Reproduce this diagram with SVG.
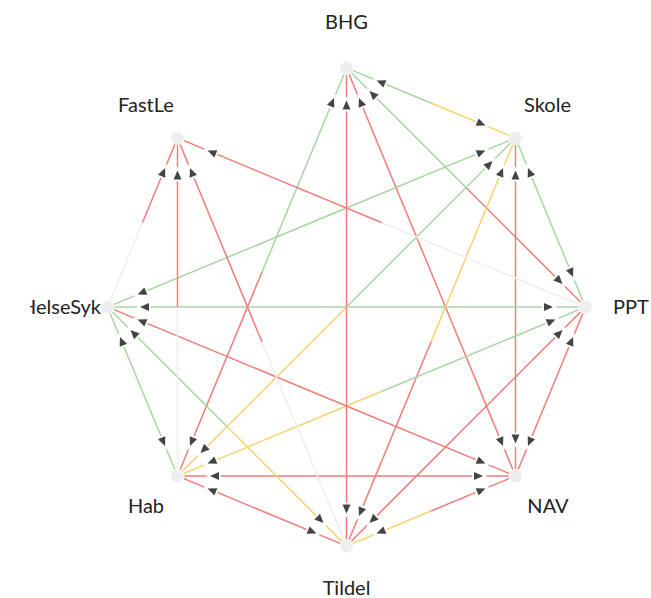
<svg xmlns="http://www.w3.org/2000/svg" xmlns:xlink="http://www.w3.org/1999/xlink" width="651" height="598" viewBox="0 0 651 598">
<style>
.r{stroke:#f07c78;stroke-width:1.5;fill:none}
.g{stroke:#a6d6a0;stroke-width:1.5;fill:none}
.y{stroke:#f6d26e;stroke-width:1.5;fill:none}
.n{stroke:#eeeeee;stroke-width:1.5;fill:none}
.ah{fill:#444;stroke:#fff;stroke-width:3.5;paint-order:stroke;stroke-linejoin:miter}
.node{fill:#eeeeee}
.lbl{font-family:Lato,"Open Sans","Liberation Sans",sans-serif;font-size:20px;fill:#222}
</style>
<defs>
<path id="a" class="ah" d="M4.5,0 L-4.5,-4 L-4.5,4 Z"/>
<clipPath id="clipL"><rect x="30" y="280" width="80" height="50"/></clipPath>
</defs>
<rect width="651" height="598" fill="#fff"/>
<g id="connectors">
<!-- B-S -->
<line class="g" x1="431" y1="103" x2="352.97" y2="70.68"/>
<line class="y" x1="431" y1="103" x2="509.03" y2="135.32"/>
<!-- B-P -->
<line class="g" x1="466" y1="187.5" x2="351.45" y2="72.95"/>
<line class="r" x1="466" y1="187.5" x2="580.55" y2="302.05"/>
<!-- B-N -->
<line class="r" x1="431" y1="272" x2="349.18" y2="74.47"/>
<line class="r" x1="431" y1="272" x2="512.82" y2="469.53"/>
<!-- B-T -->
<line class="r" x1="346.5" y1="307" x2="346.5" y2="75"/>
<line class="r" x1="346.5" y1="307" x2="346.5" y2="539"/>
<!-- B-H -->
<line class="g" x1="262" y1="272" x2="343.82" y2="74.47"/>
<line class="r" x1="262" y1="272" x2="180.18" y2="469.53"/>
<!-- S-P -->
<line class="g" x1="550.5" y1="222.5" x2="518.18" y2="144.47"/>
<line class="g" x1="550.5" y1="222.5" x2="582.82" y2="300.53"/>
<!-- S-N -->
<line class="r" x1="515.5" y1="307" x2="515.5" y2="145"/>
<line class="r" x1="515.5" y1="307" x2="515.5" y2="469"/>
<!-- S-T -->
<line class="y" x1="431" y1="342" x2="512.82" y2="144.47"/>
<line class="r" x1="431" y1="342" x2="349.18" y2="539.53"/>
<!-- S-H -->
<line class="g" x1="346.5" y1="307" x2="510.55" y2="142.95"/>
<line class="y" x1="346.5" y1="307" x2="182.45" y2="471.05"/>
<!-- S-E -->
<line class="g" x1="311.5" y1="222.5" x2="509.03" y2="140.68"/>
<line class="g" x1="311.5" y1="222.5" x2="113.97" y2="304.32"/>
<!-- P-N -->
<line class="r" x1="550.5" y1="391.5" x2="582.82" y2="313.47"/>
<line class="r" x1="550.5" y1="391.5" x2="518.18" y2="469.53"/>
<!-- P-T -->
<line class="r" x1="466" y1="426.5" x2="580.55" y2="311.95"/>
<line class="r" x1="466" y1="426.5" x2="351.45" y2="541.05"/>
<!-- P-H -->
<line class="g" x1="381.5" y1="391.5" x2="579.03" y2="309.68"/>
<line class="y" x1="381.5" y1="391.5" x2="183.97" y2="473.32"/>
<!-- P-E -->
<line class="g" x1="346.5" y1="307" x2="578.5" y2="307"/>
<line class="g" x1="346.5" y1="307" x2="114.5" y2="307"/>
<!-- P-F -->
<line class="n" x1="381.5" y1="222.5" x2="579.03" y2="304.32"/>
<line class="r" x1="381.5" y1="222.5" x2="183.97" y2="140.68"/>
<!-- N-T -->
<line class="r" x1="431" y1="511" x2="509.03" y2="478.68"/>
<line class="y" x1="431" y1="511" x2="352.97" y2="543.32"/>
<!-- N-H -->
<line class="r" x1="346.5" y1="476" x2="508.5" y2="476"/>
<line class="r" x1="346.5" y1="476" x2="184.5" y2="476"/>
<!-- N-E -->
<line class="r" x1="311.5" y1="391.5" x2="509.03" y2="473.32"/>
<line class="r" x1="311.5" y1="391.5" x2="113.97" y2="309.68"/>
<!-- T-H -->
<line class="r" x1="262" y1="511" x2="340.03" y2="543.32"/>
<line class="r" x1="262" y1="511" x2="183.97" y2="478.68"/>
<!-- T-E -->
<line class="y" x1="227" y1="426.5" x2="341.55" y2="541.05"/>
<line class="g" x1="227" y1="426.5" x2="112.45" y2="311.95"/>
<!-- T-F -->
<line class="n" x1="262" y1="342" x2="343.82" y2="539.53"/>
<line class="r" x1="262" y1="342" x2="180.18" y2="144.47"/>
<!-- H-E -->
<line class="g" x1="142.5" y1="391.5" x2="174.82" y2="469.53"/>
<line class="g" x1="142.5" y1="391.5" x2="110.18" y2="313.47"/>
<!-- H-F -->
<line class="n" x1="177.5" y1="307" x2="177.5" y2="469"/>
<line class="r" x1="177.5" y1="307" x2="177.5" y2="145"/>
<!-- E-F -->
<line class="n" x1="142.5" y1="222.5" x2="110.18" y2="300.53"/>
<line class="r" x1="142.5" y1="222.5" x2="174.82" y2="144.47"/>
<!-- arrowheads -->
<use xlink:href="#a" transform="translate(380.69,82.17) rotate(202.5)"/>
<use xlink:href="#a" transform="translate(481.31,123.83) rotate(22.5)"/>
<use xlink:href="#a" transform="translate(372.66,94.16) rotate(225)"/>
<use xlink:href="#a" transform="translate(559.34,280.84) rotate(45)"/>
<use xlink:href="#a" transform="translate(360.66,102.18) rotate(247.5)"/>
<use xlink:href="#a" transform="translate(501.34,441.82) rotate(67.5)"/>
<use xlink:href="#a" transform="translate(346.5,105) rotate(-90)"/>
<use xlink:href="#a" transform="translate(346.5,509) rotate(90)"/>
<use xlink:href="#a" transform="translate(332.34,102.18) rotate(-67.5)"/>
<use xlink:href="#a" transform="translate(191.66,441.82) rotate(112.5)"/>
<use xlink:href="#a" transform="translate(529.66,172.18) rotate(247.5)"/>
<use xlink:href="#a" transform="translate(571.34,272.82) rotate(67.5)"/>
<use xlink:href="#a" transform="translate(515.5,175) rotate(-90)"/>
<use xlink:href="#a" transform="translate(515.5,439) rotate(90)"/>
<use xlink:href="#a" transform="translate(501.34,172.18) rotate(-67.5)"/>
<use xlink:href="#a" transform="translate(360.66,511.82) rotate(112.5)"/>
<use xlink:href="#a" transform="translate(489.34,164.16) rotate(-45)"/>
<use xlink:href="#a" transform="translate(203.66,449.84) rotate(135)"/>
<use xlink:href="#a" transform="translate(481.32,152.16) rotate(-22.5)"/>
<use xlink:href="#a" transform="translate(141.68,292.84) rotate(157.5)"/>
<use xlink:href="#a" transform="translate(571.34,341.18) rotate(-67.5)"/>
<use xlink:href="#a" transform="translate(529.66,441.82) rotate(112.5)"/>
<use xlink:href="#a" transform="translate(559.34,333.16) rotate(-45)"/>
<use xlink:href="#a" transform="translate(372.66,519.84) rotate(135)"/>
<use xlink:href="#a" transform="translate(551.32,321.16) rotate(-22.5)"/>
<use xlink:href="#a" transform="translate(211.68,461.84) rotate(157.5)"/>
<use xlink:href="#a" transform="translate(548.5,307) rotate(0)"/>
<use xlink:href="#a" transform="translate(144.5,307) rotate(180)"/>
<use xlink:href="#a" transform="translate(211.68,152.16) rotate(202.5)"/>
<use xlink:href="#a" transform="translate(481.32,490.16) rotate(-22.5)"/>
<use xlink:href="#a" transform="translate(380.68,531.84) rotate(157.5)"/>
<use xlink:href="#a" transform="translate(478.5,476) rotate(0)"/>
<use xlink:href="#a" transform="translate(214.5,476) rotate(180)"/>
<use xlink:href="#a" transform="translate(481.32,461.84) rotate(22.5)"/>
<use xlink:href="#a" transform="translate(141.68,321.16) rotate(202.5)"/>
<use xlink:href="#a" transform="translate(312.32,531.84) rotate(22.5)"/>
<use xlink:href="#a" transform="translate(211.68,490.16) rotate(202.5)"/>
<use xlink:href="#a" transform="translate(320.34,519.84) rotate(45)"/>
<use xlink:href="#a" transform="translate(133.66,333.16) rotate(225)"/>
<use xlink:href="#a" transform="translate(191.66,172.18) rotate(247.5)"/>
<use xlink:href="#a" transform="translate(163.34,441.82) rotate(67.5)"/>
<use xlink:href="#a" transform="translate(121.66,341.18) rotate(247.5)"/>
<use xlink:href="#a" transform="translate(177.5,175) rotate(-90)"/>
<use xlink:href="#a" transform="translate(163.34,172.18) rotate(-67.5)"/>
</g>
<g id="node-BHG"><circle class="node" cx="346.5" cy="68" r="6.5"/><text class="lbl" x="346.5" y="29" text-anchor="middle">BHG</text></g>
<g id="node-Skole"><circle class="node" cx="515.5" cy="138" r="6.5"/><text class="lbl" x="547.5" y="112" text-anchor="middle">Skole</text></g>
<g id="node-PPT"><circle class="node" cx="585.5" cy="307" r="6.5"/><text class="lbl" x="613" y="314">PPT</text></g>
<g id="node-NAV"><circle class="node" cx="515.5" cy="476" r="6.5"/><text class="lbl" x="548" y="513" text-anchor="middle">NAV</text></g>
<g id="node-Tildel"><circle class="node" cx="346.5" cy="546" r="6.5"/><text class="lbl" x="346.5" y="595" text-anchor="middle">Tildel</text></g>
<g id="node-Hab"><circle class="node" cx="177.5" cy="476" r="6.5"/><text class="lbl" x="146" y="513" text-anchor="middle">Hab</text></g>
<g id="node-HelseSyk"><circle class="node" cx="107.5" cy="307" r="6.5"/><text class="lbl" x="101" y="314" text-anchor="end" clip-path="url(#clipL)">HelseSyk</text></g>
<g id="node-FastLe"><circle class="node" cx="177.5" cy="138" r="6.5"/><text class="lbl" x="146" y="112" text-anchor="middle">FastLe</text></g>
</svg>
